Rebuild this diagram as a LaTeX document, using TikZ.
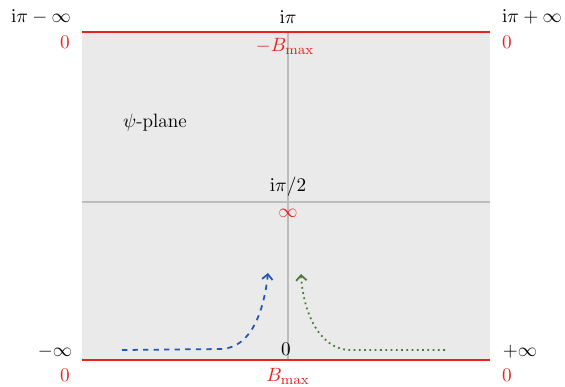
\documentclass[tikz,border=0pt]{standalone}
\usepackage{tikz}
\usetikzlibrary{arrows.meta, positioning}
\definecolor{psired}{HTML}{E6231C}
\definecolor{psigray}{HTML}{EAEAEA}
\definecolor{psiaxis}{HTML}{BDBDBD}
\definecolor{psiblue}{HTML}{2358B0}
\definecolor{psigreen}{HTML}{4C7A32}

\begin{document}
\begin{tikzpicture}[
  x=0.02cm, y=-0.02cm,
  every node/.style={font=\fontsize{11}{13}\selectfont},
  redlbl/.style={text=psired},
  bound/.style={psired, line width=1.7pt},
  axis/.style={psiaxis, line width=0.8pt},
  flow/.style={line width=1pt, -{Straight Barb[length=3pt,width=6pt]}},
]
  \useasboundingbox (0,0) rectangle (565,386);
  \fill[psigray] (82,32) rectangle (490,360);

  % axes
  \coordinate (top) at (288,32);
  \coordinate (bot) at (288,360);
  \coordinate (mleft) at (82,202);
  \coordinate (mright) at (490,202);
  \draw[axis] (top) -- (bot);
  \draw[axis] (mleft) -- (mright);

  % boundary lines
  \coordinate (tl) at (82,32);
  \coordinate (tr) at (490,32);
  \coordinate (bl) at (82,360);
  \coordinate (br) at (490,360);
  \draw[bound] (tl) -- (tr);
  \draw[bound] (bl) -- (br);

  % labels
  \node (ipm) at (41,17) {$\mathrm{i}\pi-\infty$};
  \node[redlbl] (z1) at (65,42) {$0$};
  \node (ipp) at (532,17) {$\mathrm{i}\pi+\infty$};
  \node[redlbl] (z2) at (507,42) {$0$};
  \node (ip) at (288,17) {$\mathrm{i}\pi$};
  \node[redlbl] (mb) at (285,46) {$-B_{\max}$};
  \node (ip2) at (288,187) {$\mathrm{i}\pi/2$};
  \node[redlbl] (inf) at (288,213) {$\infty$};
  \node (plane) at (155,123) {$\psi$-plane};
  \node (minf) at (55,352) {$-\infty$};
  \node[redlbl] (z3) at (65,375) {$0$};
  \node (pinf) at (520,352) {$+\infty$};
  \node[redlbl] (z4) at (507,375) {$0$};
  \node (zero) at (286,349) {$0$};
  \node[redlbl] (bmax) at (288,376) {$B_{\max}$};

  % paths
  \coordinate (bs) at (122,350);
  \coordinate (bk) at (222,349);
  \coordinate (be) at (268,273);
  \draw[flow, psiblue, dashed] (bs) -- (bk)
    .. controls (252,347) and (264,310) .. (be);
  \coordinate (gs) at (445,350);
  \coordinate (gk) at (350,350);
  \coordinate (ge) at (301,274);
  \draw[flow, psigreen, dotted] (gs) -- (gk)
    .. controls (318,349) and (303,310) .. (ge);
\end{tikzpicture}
\end{document}
